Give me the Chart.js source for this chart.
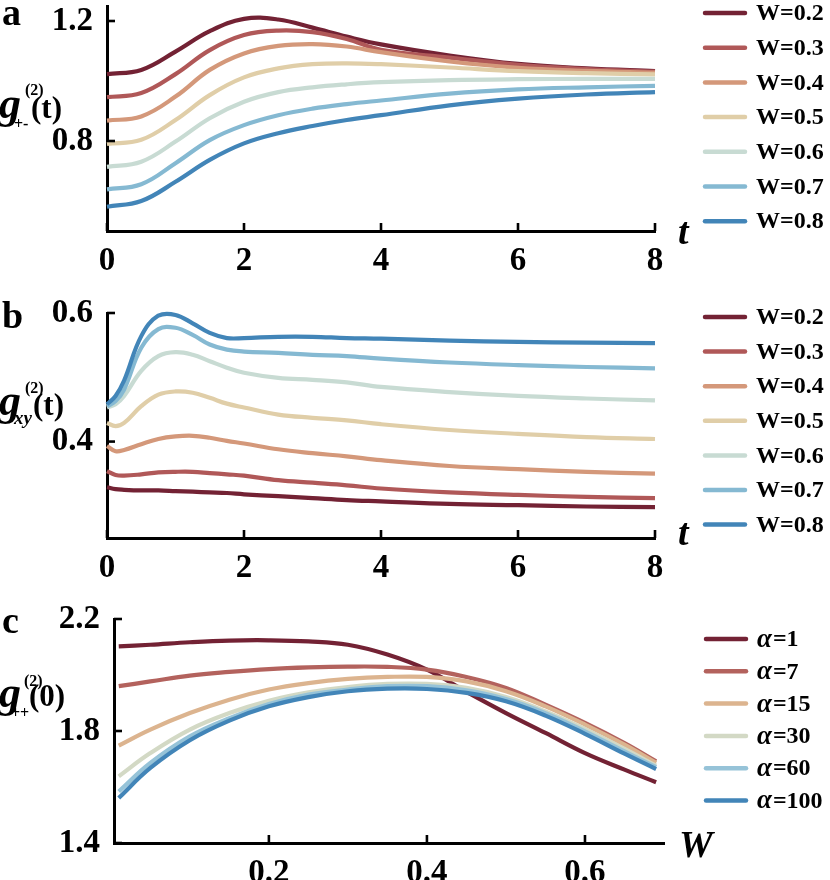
<!DOCTYPE html>
<html>
<head>
<meta charset="utf-8">
<script src="https://cdn.jsdelivr.net/npm/chart.js@4.4.1/dist/chart.umd.min.js"></script>
<style>
  body { margin: 0; background: #fff; }
  canvas { position: absolute; left: 0; }
</style>
</head>
<body>
<canvas id="ca" width="830" height="290" style="top:0px"></canvas>
<canvas id="cb" width="830" height="290" style="top:290px"></canvas>
<canvas id="cc" width="830" height="300" style="top:580px"></canvas>
<script>
// ---- data ----
const wLabels = ["W=0.2", "W=0.3", "W=0.4", "W=0.5", "W=0.6", "W=0.7", "W=0.8"];
const wColors = ["#732234", "#b05858", "#d4987a", "#e0cea8", "#c8dbd3", "#85b9d2", "#4285b8"];

// panel a : g+-(t)
const tA = [0, 0.5, 1, 1.5, 2, 2.5, 3, 3.5, 4, 5, 6, 7, 8];
const a02 = [1.023, 1.037, 1.098, 1.166, 1.207, 1.205, 1.178, 1.148, 1.122, 1.085, 1.057, 1.042, 1.033];
const a03 = [0.946, 0.960, 1.023, 1.103, 1.153, 1.168, 1.163, 1.140, 1.104, 1.078, 1.054, 1.040, 1.031];
const a04 = [0.868, 0.882, 0.948, 1.037, 1.092, 1.117, 1.123, 1.115, 1.096, 1.065, 1.044, 1.034, 1.028];
const a05 = [0.790, 0.804, 0.870, 0.953, 1.012, 1.042, 1.056, 1.059, 1.056, 1.045, 1.033, 1.026, 1.022];
const a06 = [0.714, 0.731, 0.798, 0.876, 0.931, 0.963, 0.979, 0.989, 0.996, 1.003, 1.006, 1.007, 1.007];
const a07 = [0.639, 0.656, 0.726, 0.803, 0.853, 0.886, 0.908, 0.923, 0.935, 0.958, 0.972, 0.979, 0.984];
const a08 = [0.581, 0.600, 0.664, 0.737, 0.792, 0.826, 0.850, 0.870, 0.886, 0.919, 0.941, 0.955, 0.963];

// panel b : gxy(t)
const tB = [0, 0.125, 0.25, 0.5, 0.75, 1, 1.25, 1.5, 1.75, 2, 2.5, 3, 3.5, 4, 5, 6, 7, 8];
const b02 = [0.329, 0.326, 0.325, 0.324, 0.324, 0.323, 0.322, 0.321, 0.320, 0.318, 0.315, 0.312, 0.309, 0.307, 0.303, 0.301, 0.299, 0.298];
const b03 = [0.354, 0.348, 0.347, 0.349, 0.352, 0.353, 0.353, 0.351, 0.349, 0.347, 0.340, 0.336, 0.332, 0.327, 0.321, 0.317, 0.314, 0.312];
const b04 = [0.393, 0.385, 0.387, 0.396, 0.404, 0.408, 0.409, 0.406, 0.401, 0.397, 0.388, 0.382, 0.377, 0.371, 0.362, 0.357, 0.353, 0.350];
const b05 = [0.429, 0.424, 0.429, 0.455, 0.473, 0.478, 0.476, 0.468, 0.459, 0.453, 0.442, 0.437, 0.433, 0.427, 0.418, 0.412, 0.407, 0.404];
const b06 = [0.453, 0.458, 0.471, 0.510, 0.533, 0.539, 0.535, 0.525, 0.515, 0.507, 0.499, 0.496, 0.492, 0.485, 0.477, 0.471, 0.467, 0.464];
const b07 = [0.455, 0.463, 0.481, 0.546, 0.575, 0.577, 0.566, 0.551, 0.543, 0.540, 0.538, 0.535, 0.533, 0.529, 0.523, 0.519, 0.516, 0.514];
const b08 = [0.458, 0.471, 0.495, 0.564, 0.596, 0.597, 0.584, 0.569, 0.561, 0.561, 0.563, 0.563, 0.561, 0.560, 0.557, 0.555, 0.554, 0.553];

// panel c : g++(0) vs W
const alphaLabels = ["α=1", "α=7", "α=15", "α=30", "α=60", "α=100"];
const alphaColors = ["#732234", "#b3625d", "#dcb48f", "#d3d9c5", "#96c3d8", "#4285b8"];
const wC = [0.01, 0.05, 0.1, 0.15, 0.2, 0.25, 0.3, 0.35, 0.4, 0.45, 0.5, 0.55, 0.6, 0.65, 0.69];
const c1   = [2.102, 2.108, 2.117, 2.123, 2.124, 2.120, 2.108, 2.073, 2.019, 1.940, 1.864, 1.793, 1.721, 1.662, 1.617];
const c7   = [1.960, 1.977, 1.998, 2.011, 2.021, 2.027, 2.030, 2.029, 2.019, 1.993, 1.954, 1.894, 1.829, 1.757, 1.692];
const c15  = [1.748, 1.805, 1.864, 1.912, 1.948, 1.971, 1.986, 1.993, 1.993, 1.977, 1.942, 1.888, 1.823, 1.751, 1.686];
const c30  = [1.638, 1.721, 1.805, 1.864, 1.908, 1.938, 1.957, 1.968, 1.968, 1.954, 1.921, 1.870, 1.807, 1.736, 1.676];
const c60  = [1.584, 1.686, 1.781, 1.846, 1.896, 1.930, 1.948, 1.960, 1.960, 1.945, 1.914, 1.864, 1.799, 1.727, 1.671];
const c100 = [1.561, 1.668, 1.767, 1.837, 1.888, 1.921, 1.942, 1.951, 1.950, 1.936, 1.906, 1.855, 1.790, 1.719, 1.664];

// tick labels shown on each axis (other ticks are unlabeled minor ticks)
const xLabA = ["0", "2", "4", "6", "8"];
const yLabA = ["0.8", "1.2"];
const yLabB = ["0.4", "0.6"];
const xLabC = ["0.2", "0.4", "0.6"];
const yLabC = ["1.4", "1.8", "2.2"];

const SERIF = '"Liberation Serif", "Times New Roman", serif';

function makeSets(xs, ys, labels, colors) {
  return ys.map((arr, i) => ({
    label: labels[i],
    data: arr.map((v, k) => ({ x: xs[k], y: v })),
    borderColor: colors[i],
    backgroundColor: colors[i],
    borderWidth: 4.2,
    pointRadius: 0,
    tension: 0.4,
    order: ys.length - i,   // later series on top
    clip: 8
  }));
}

function pick(list) {
  return v => {
    const s = String(+(+v).toFixed(2));
    return list.includes(s) ? s : null;
  };
}

// inward tick marks, panel letter, axis titles and legend
const decor = {
  id: 'decor',
  afterDraw(chart, args, o) {
    const ctx = chart.ctx;
    const { left, bottom } = chart.chartArea;
    const xs = chart.scales.x, ys = chart.scales.y;
    ctx.save();
    ctx.strokeStyle = '#000';
    ctx.fillStyle = '#000';
    ctx.lineWidth = 2.6;
    xs.ticks.forEach(t => {
      const p = xs.getPixelForValue(t.value);
      const L = t.label ? 8 : 5;
      ctx.beginPath(); ctx.moveTo(p, bottom); ctx.lineTo(p, bottom - L); ctx.stroke();
    });
    ys.ticks.forEach(t => {
      const p = ys.getPixelForValue(t.value);
      const L = t.label ? 8 : 5;
      ctx.beginPath(); ctx.moveTo(left, p); ctx.lineTo(left + L, p); ctx.stroke();
    });

    ctx.textBaseline = 'alphabetic';
    ctx.textAlign = 'left';
    (o.texts || []).forEach(t => {
      ctx.font = t.font;
      ctx.fillText(t.text, t.x, t.y);
    });

    // legend
    const lg = o.legend;
    chart.data.datasets.forEach((ds, i) => {
      const y = lg.y + i * lg.step;
      ctx.strokeStyle = ds.borderColor;
      ctx.lineWidth = 4.5;
      ctx.lineCap = 'round';
      ctx.beginPath(); ctx.moveTo(lg.x, y); ctx.lineTo(lg.x + 40, y); ctx.stroke();
      ctx.fillStyle = '#000';
      ctx.textBaseline = 'middle';
      let tx = lg.x + 51;
      let lab = ds.label;
      if (lab.startsWith('α')) {
        ctx.font = 'italic bold 27px ' + SERIF;
        ctx.fillText('α', tx, y + 1);
        tx += ctx.measureText('α').width + 1;
        lab = lab.slice(1);
      }
      ctx.font = 'bold 24px ' + SERIF;
      ctx.fillText(lab, tx, y + 1);
    });
    ctx.restore();
  }
};

function baseScales(o) {
  return {
    x: {
      type: 'linear', min: o.xmin, max: o.xmax,
      grid: { display: false },
      border: { display: true, color: '#000', width: 3 },
      ticks: {
        stepSize: o.xstep, includeBounds: false, autoSkip: false, maxRotation: 0,
        callback: pick(o.xlab), color: '#000', padding: 3,
        font: { family: SERIF, size: 33, weight: 'bold' }
      },
      afterFit: s => { s.height = o.xh; s.paddingLeft = 0; s.paddingRight = 0; }
    },
    y: {
      type: 'linear', min: o.ymin, max: o.ymax,
      grid: { display: false },
      border: { display: true, color: '#000', width: 3 },
      ticks: {
        stepSize: o.ystep, includeBounds: false, autoSkip: false,
        callback: pick(o.ylab), color: '#000', padding: 6,
        font: { family: SERIF, size: 33, weight: 'bold' }
      },
      afterFit: s => { s.width = o.yw; s.paddingTop = 0; s.paddingBottom = 0; }
    }
  };
}

function makeChart(id, sets, sc, pad, deco) {
  return new Chart(document.getElementById(id), {
    type: 'line',
    data: { datasets: sets },
    options: {
      responsive: false,
      animation: false,
      devicePixelRatio: 1,
      layout: { padding: pad },
      scales: baseScales(sc),
      plugins: { legend: { display: false }, tooltip: { enabled: false }, decor: deco }
    },
    plugins: [decor]
  });
}

const gFont = 'italic bold 44px ' + SERIF;
const supFont = 'bold 16px ' + SERIF;
const parFont = 'bold 31px ' + SERIF;
const letFont = 'bold 38px ' + SERIF;
const axFont = 'italic bold 38px ' + SERIF;

makeChart('ca',
  makeSets(tA, [a02, a03, a04, a05, a06, a07, a08], wLabels, wColors),
  { xmin: 0, xmax: 8, xstep: 0.5, xlab: xLabA, ymin: 0.5, ymax: 1.25, ystep: 0.1, ylab: yLabA, yw: 107, xh: 59 },
  { top: 6, right: 175, bottom: 0, left: 0 },
  {
    legend: { x: 705, y: 13, step: 34.7 },
    texts: [
      { text: 'a', font: letFont, x: 2, y: 25 },
      { text: 'g', font: gFont, x: -1, y: 118 },
      { text: '(2)', font: supFont, x: 25, y: 95 },
      { text: '+-', font: supFont, x: 14, y: 129 },
      { text: '(t)', font: parFont, x: 31, y: 118 },
      { text: 't', font: axFont, x: 678, y: 244 }
    ]
  });

makeChart('cb',
  makeSets(tB, [b02, b03, b04, b05, b06, b07, b08], wLabels, wColors),
  { xmin: 0, xmax: 8, xstep: 0.5, xlab: xLabA, ymin: 0.25, ymax: 0.6, ystep: 0.05, ylab: yLabB, yw: 107, xh: 42 },
  { top: 23, right: 175, bottom: 0, left: 0 },
  {
    legend: { x: 705, y: 27, step: 34.6 },
    texts: [
      { text: 'b', font: letFont, x: 2, y: 38 },
      { text: 'g', font: gFont, x: -1, y: 125 },
      { text: '(2)', font: supFont, x: 25, y: 103 },
      { text: 'xy', font: 'italic bold 19px ' + SERIF, x: 14, y: 134 },
      { text: '(t)', font: parFont, x: 33, y: 125 },
      { text: 't', font: axFont, x: 678, y: 255 }
    ]
  });

makeChart('cc',
  makeSets(wC, [c1, c7, c15, c30, c60, c100], alphaLabels, alphaColors),
  { xmin: 0.004, xmax: 0.7, xstep: 0.1, xlab: xLabC, ymin: 1.4, ymax: 2.2, ystep: 0.2, ylab: yLabC, yw: 114, xh: 37 },
  { top: 39, right: 166, bottom: 0, left: 0 },
  {
    legend: { x: 706, y: 59, step: 32.3 },
    texts: [
      { text: 'c', font: letFont, x: 2, y: 53 },
      { text: 'g', font: gFont, x: -1, y: 127 },
      { text: '(2)', font: supFont, x: 24, y: 106 },
      { text: '++', font: supFont, x: 11, y: 138 },
      { text: '(0)', font: parFont, x: 29, y: 126 },
      { text: 'W', font: axFont, x: 679, y: 277 }
    ]
  });
</script>
</body>
</html>
